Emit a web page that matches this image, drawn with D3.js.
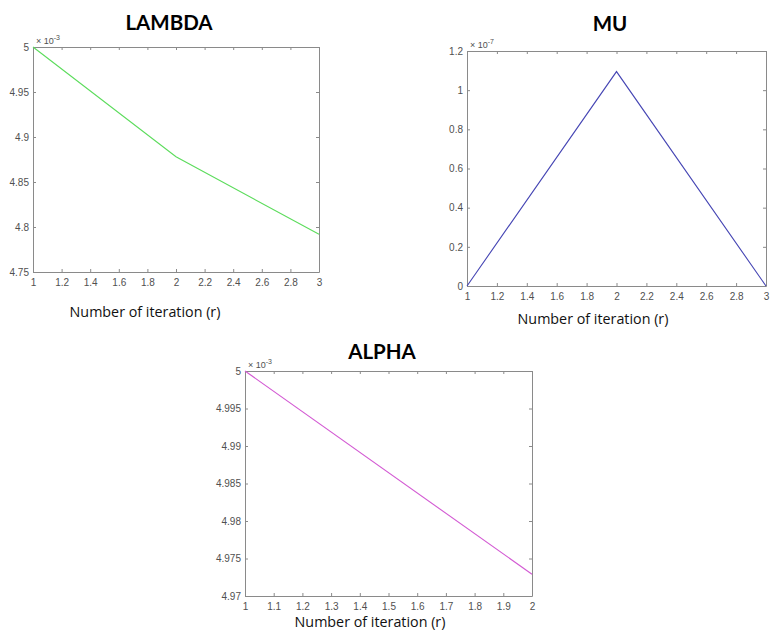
<!DOCTYPE html>
<html>
<head>
<meta charset="utf-8">
<script src="https://cdn.jsdelivr.net/npm/d3@7"></script>
<style>
  body { margin: 0; background: #fff; }
  svg { display: block; }
</style>
</head>
<body>
<script>
// data
var iterLambda = [1, 2, 3];
var lambdaVals = [5.0, 4.878, 4.792];      // x 1e-3
var iterMu = [1, 2, 3];
var muVals = [0, 1.095, 0];                // x 1e-7
var iterAlpha = [1, 2];
var alphaVals = [5.0, 4.9729];             // x 1e-3

// tick labels
var xTicks3 = [1, 1.2, 1.4, 1.6, 1.8, 2, 2.2, 2.4, 2.6, 2.8, 3];
var xTicks2 = [1, 1.1, 1.2, 1.3, 1.4, 1.5, 1.6, 1.7, 1.8, 1.9, 2];
var lambdaYTicks = [4.75, 4.8, 4.85, 4.9, 4.95, 5];
var muYTicks = [0, 0.2, 0.4, 0.6, 0.8, 1, 1.2];
var alphaYTicks = [4.97, 4.975, 4.98, 4.985, 4.99, 4.995, 5];

var svg = d3.select("body").append("svg")
    .attr("width", 770)
    .attr("height", 635);

var boxColor = "#8a8a8a";
var labelColor = "#505050";

function drawPanel(p) {

    var x = d3.scaleLinear().domain(p.xDomain).range([p.left, p.right]);
    var y = d3.scaleLinear().domain(p.yDomain).range([p.bottom, p.top]);
    var tickLen = 3;

    var g = svg.append("g");

    // title
    g.append("text")
        .attr("x", p.titleX)
        .attr("y", p.titleY)
        .attr("text-anchor", "middle")
        .attr("dominant-baseline", "central")
        .style("font-family", "Lato, 'Open Sans', sans-serif")
        .style("font-weight", "bold")
        .style("font-size", "20.5px")
        .text(p.title);

    // axes, ticks pointing inward on all four sides
    var axisStyle = function(sel) {
        sel.select(".domain").attr("stroke", boxColor);
        sel.selectAll(".tick line").attr("stroke", boxColor);
        sel.selectAll(".tick text")
            .attr("fill", labelColor)
            .style("font-family", "'Liberation Sans', Arial, sans-serif")
            .style("font-size", "10px");
    };

    g.append("g")
        .attr("transform", "translate(0," + p.bottom + ")")
        .call(d3.axisBottom(x).tickValues(p.xTicks).tickSizeInner(-tickLen).tickSizeOuter(0).tickPadding(7).tickFormat(d3.format("")))
        .call(axisStyle);

    g.append("g")
        .attr("transform", "translate(0," + p.top + ")")
        .call(d3.axisTop(x).tickValues(p.xTicks).tickSizeInner(-tickLen).tickSizeOuter(0).tickFormat(""))
        .call(axisStyle);

    g.append("g")
        .attr("transform", "translate(" + p.left + ",0)")
        .call(d3.axisLeft(y).tickValues(p.yTicks).tickSizeInner(-tickLen).tickSizeOuter(0).tickPadding(4).tickFormat(d3.format("")))
        .call(axisStyle);

    g.append("g")
        .attr("transform", "translate(" + p.right + ",0)")
        .call(d3.axisRight(y).tickValues(p.yTicks).tickSizeInner(-tickLen).tickSizeOuter(0).tickFormat(""))
        .call(axisStyle);

    // exponent label
    var exp = g.append("text")
        .attr("x", p.left + 3)
        .attr("y", p.top - 3)
        .attr("fill", labelColor)
        .style("font-family", "'Liberation Sans', Arial, sans-serif")
        .style("font-size", "9px");
    exp.append("tspan").text("\u00d7 10");
    exp.append("tspan").attr("dy", -4).style("font-size", "7px").text(p.exponent);

    // the series line
    var line = d3.line()
        .x(function(d) { return x(d[0]); })
        .y(function(d) { return y(d[1]); });

    g.append("path")
        .datum(d3.zip(p.xs, p.ys))
        .attr("fill", "none")
        .attr("stroke", p.color)
        .attr("stroke-width", 1.1)
        .attr("d", line);

    // x axis label
    g.append("text")
        .attr("x", p.xLabelX)
        .attr("y", p.xLabelY)
        .attr("text-anchor", "middle")
        .attr("dominant-baseline", "central")
        .style("font-family", "'Open Sans', Lato, sans-serif")
        .style("font-size", "14.3px")
        .attr("fill", "#111")
        .text("Number of iteration (r)");
}

drawPanel({
    title: "LAMBDA", titleX: 169, titleY: 22,
    left: 33, right: 319, top: 47, bottom: 272,
    xDomain: [1, 3], yDomain: [4.75, 5],
    xTicks: xTicks3, yTicks: lambdaYTicks,
    xs: iterLambda, ys: lambdaVals,
    color: "#5cdc5c", exponent: "-3",
    xLabelX: 145, xLabelY: 311
});

drawPanel({
    title: "MU", titleX: 610, titleY: 23,
    left: 467, right: 766, top: 51, bottom: 286,
    xDomain: [1, 3], yDomain: [0, 1.2],
    xTicks: xTicks3, yTicks: muYTicks,
    xs: iterMu, ys: muVals,
    color: "#4646b4", exponent: "-7",
    xLabelX: 593, xLabelY: 318
});

drawPanel({
    title: "ALPHA", titleX: 382, titleY: 351,
    left: 245, right: 532, top: 371, bottom: 596,
    xDomain: [1, 2], yDomain: [4.97, 5],
    xTicks: xTicks2, yTicks: alphaYTicks,
    xs: iterAlpha, ys: alphaVals,
    color: "#d35ad3", exponent: "-3",
    xLabelX: 370, xLabelY: 621
});
</script>
</body>
</html>
